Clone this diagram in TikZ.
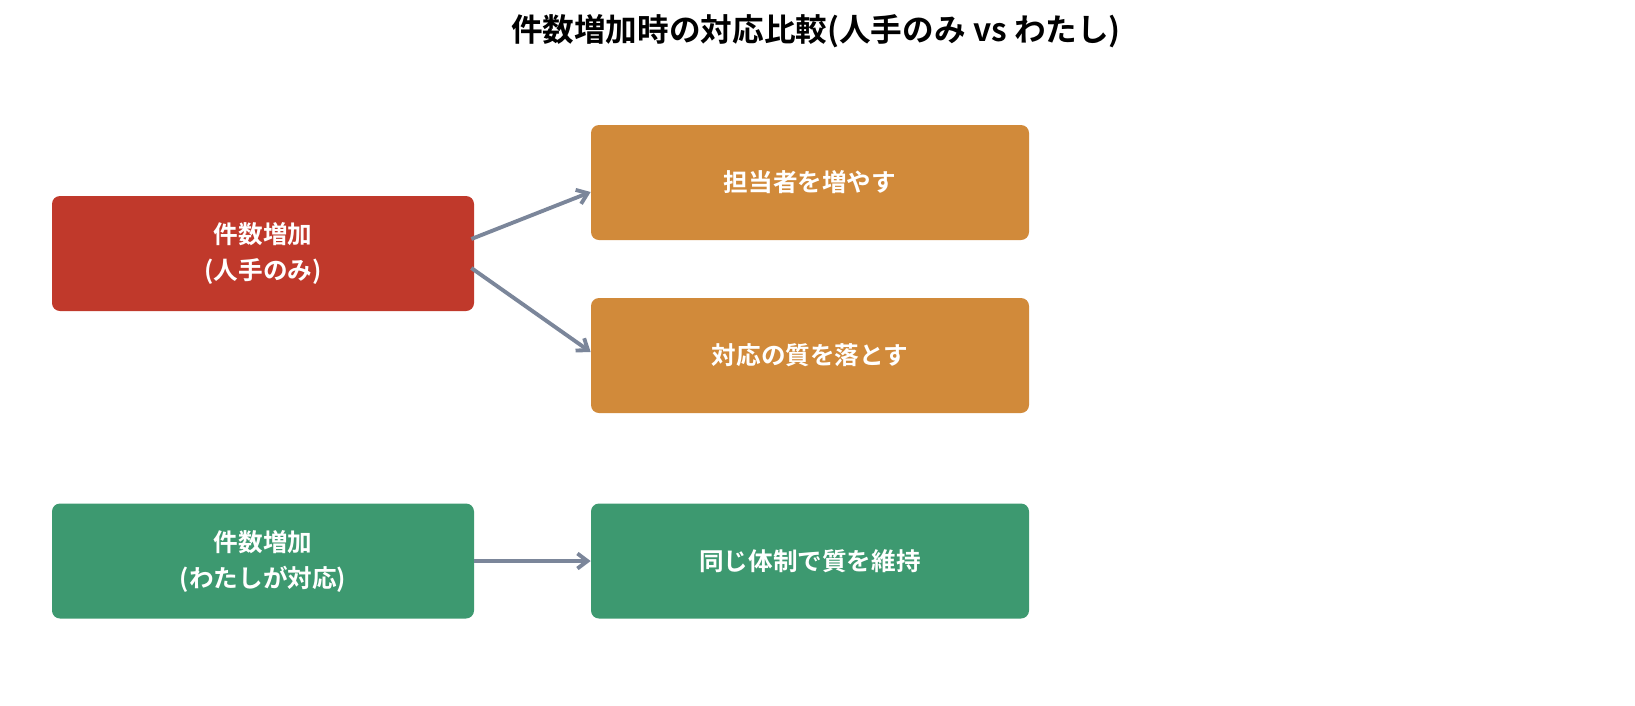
\documentclass[tikz,border=0pt]{standalone}
\usepackage{fontspec}
\setmainfont{Noto Sans CJK JP}[BoldFont={Noto Sans CJK JP Bold}]
\usetikzlibrary{arrows.meta, calc}
\definecolor{hand}{HTML}{C0392B}
\definecolor{bad}{HTML}{D18A3A}
\definecolor{good}{HTML}{3D9970}
\definecolor{flow}{HTML}{7B869A}

\begin{document}
\begin{tikzpicture}[>={Straight Barb[length=2mm, width=3mm]},
  every node/.style={font=\fontsize{14}{20.5}\selectfont\bfseries},
  box/.style={rounded corners=0.16cm, text=white, align=center, minimum height=2.3cm},
  lbox/.style={box, minimum width=8.44cm},
  rbox/.style={box, minimum width=8.76cm},
  link/.style={->, draw=flow, line width=2.2pt}]
  \useasboundingbox (0,0) rectangle (32.7,-14.1);
  \node[font=\fontsize{18}{22}\selectfont\bfseries] (title) at (16.32,-0.62) {件数増加時の対応比較(人手のみ vs わたし)};
  \node[lbox, fill=hand] (manual) at (5.26,-5.07) {件数増加\\(人手のみ)};
  \node[rbox, fill=bad] (staff) at (16.2,-3.65) {担当者を増やす};
  \node[rbox, fill=bad] (quality) at (16.2,-7.11) {対応の質を落とす};
  \node[lbox, fill=good] (agent) at (5.26,-11.22) {件数増加\\(わたしが対応)};
  \node[rbox, fill=good] (keep) at (16.2,-11.22) {同じ体制で質を維持};
  \draw[link] ([xshift=-0.06cm, yshift=0.29cm]manual.east) -- ([yshift=-0.19cm]staff.west);
  \draw[link] ([xshift=-0.06cm, yshift=-0.29cm]manual.east) -- ([yshift=0.07cm]quality.west);
  \draw[link] (agent.east) -- (keep.west);
\end{tikzpicture}
\end{document}
